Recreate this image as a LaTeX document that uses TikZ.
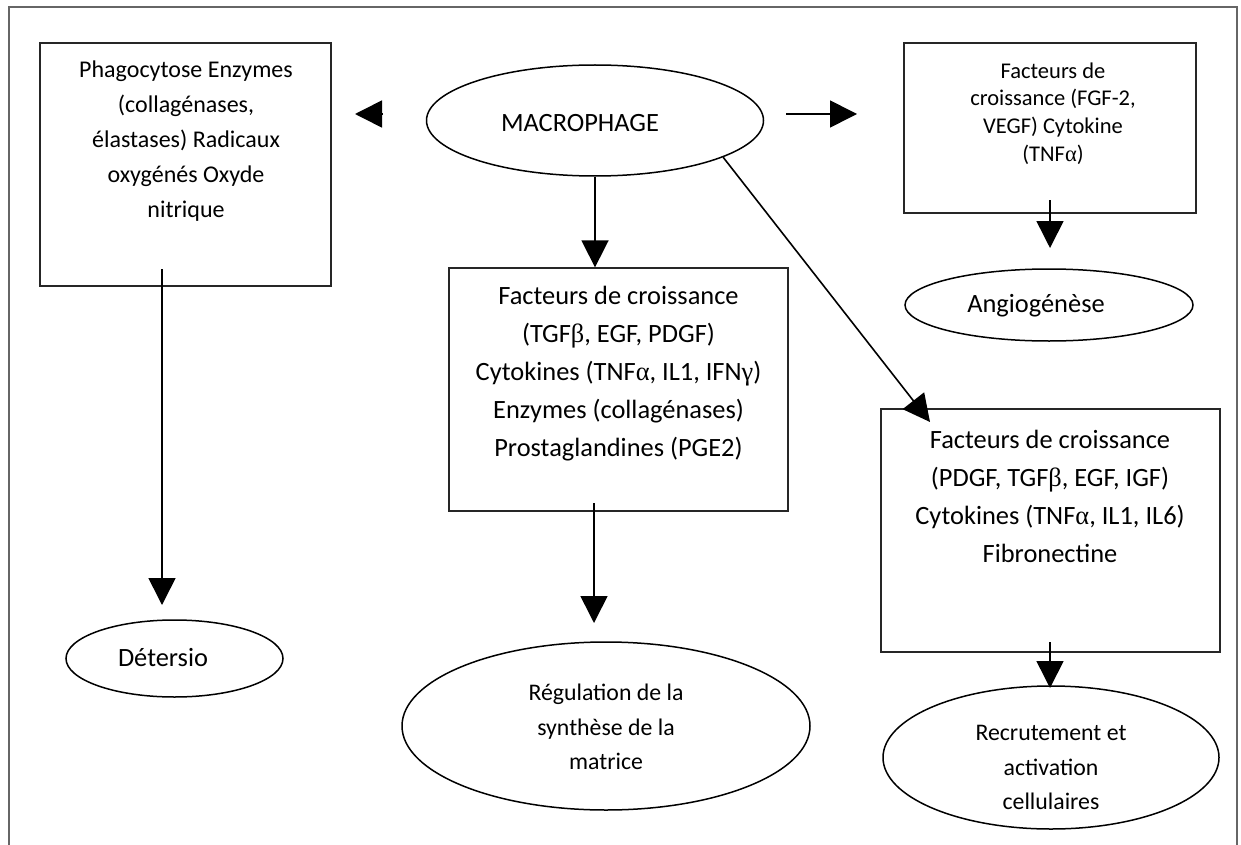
\documentclass[tikz,border=0pt]{standalone}
\usepackage{fontspec}
\setmainfont{Carlito}
\newfontfamily\grk{Liberation Serif}
\newcommand{\galpha}{{\grk α}}
\newcommand{\gbeta}{{\grk β}}
\newcommand{\ggamma}{{\grk γ}}
\usetikzlibrary{arrows.meta,shapes.geometric}
\begin{document}
\begin{tikzpicture}[x=1pt,y=-1pt,
  boxst/.style={draw=black!85, line width=1.3pt, inner sep=0pt},
  ell/.style={draw=black, ellipse, line width=1.5pt, inner sep=0pt},
  txt/.style={align=center, inner sep=0pt},
  arr/.style={draw=black, line width=1.6pt, -{Triangle[width=27pt,length=27pt]}},
  fA/.style={font=\fontsize{26.4}{38}\selectfont},
  fB/.style={font=\fontsize{23.8}{34.5}\selectfont},
  fL/.style={font=\fontsize{24}{35}\selectfont},
  fS/.style={font=\fontsize{22.5}{27.7}\selectfont}
]
\useasboundingbox (0,0) rectangle (1241,845);
% outer frame (open at bottom)
\draw[black!60, line width=1.5pt] (9,845) -- (9,7) -- (1237,7) -- (1237,845);

% boxes
\node[boxst, minimum width=291pt, minimum height=243pt] (lbox) at (185.5,164.5) {};
\node[boxst, minimum width=339pt, minimum height=243pt] (cbox) at (618.5,389.5) {};
\node[boxst, minimum width=292pt, minimum height=170pt] (trbox) at (1050,128) {};
\node[boxst, minimum width=339pt, minimum height=243pt] (brbox) at (1050.5,530.5) {};

% ellipses
\node[ell, minimum width=337pt, minimum height=111pt] (mac) at (595,120.5) {};
\node[ell, minimum width=217pt, minimum height=77pt] (det) at (174.5,658.5) {};
\node[ell, minimum width=288pt, minimum height=72pt] (ang) at (1049,305) {};
\node[ell, minimum width=408pt, minimum height=168pt] (reg) at (606,726) {};
\node[ell, minimum width=336pt, minimum height=143pt] (rec) at (1051,757.5) {};

% texts
\node[txt, fA] (mact) at (580,123) {MACROPHAGE};
\node[txt, fA] (dett) at (163,658) {Détersio};
\node[txt, fA] (angt) at (1036,306) {Angiogénèse};
\node[txt, fB] (regt) at (606,727) {Régulation de la\\synthèse de la\\matrice};
\node[txt, fB] (rect) at (1051,767.5) {Recrutement et\\activation\\cellulaires};
\node[txt, fL] (lboxt) at (186,141.5) {Phagocytose Enzymes\\(collagénases,\\élastases) Radicaux\\oxygénés Oxyde\\nitrique};
\node[txt, fS] (trboxt) at (1053,113.5) {Facteurs de\\croissance (FGF-2,\\VEGF) Cytokine\\(TNF\galpha)};
\node[txt, fA] (cboxt) at (618.5,373.5) {Facteurs de croissance\\(TGF\gbeta, EGF, PDGF)\\Cytokines (TNF\galpha, IL1, IFN\ggamma)\\Enzymes (collagénases)\\Prostaglandines (PGE2)};
\node[txt, fA] (brboxt) at (1050,496.5) {Facteurs de croissance\\(PDGF, TGF\gbeta, EGF, IGF)\\Cytokines (TNF\galpha, IL1, IL6)\\Fibronectine};

% free arrow ends
\coordinate (la1) at (382,114);
\coordinate (la2) at (355,114);
\coordinate (ra1) at (786,114);
\coordinate (ra2) at (857,114);
\coordinate (c1) at (594,503);
\coordinate (c2) at (594,623);
\coordinate (l1) at (162,269);
\coordinate (l2) at (162,605);
\coordinate (t1) at (1050,200);
\coordinate (t2) at (1050,248);
\coordinate (b1) at (1050,642);
\coordinate (b2) at (1050,688);
\coordinate (dg) at (930,422);

% connectors
\draw[arr] (la1) -- (la2);
\draw[arr] (ra1) -- (ra2);
\draw[arr] (mac.south) -- (mac.south |- cbox.north);
\draw[arr] (c1) -- (c2);
\draw[arr] (l1) -- (l2);
\draw[arr] (t1) -- (t2);
\draw[arr] (b1) -- (b2);
\draw[arr] (mac.-16) -- (dg);
\end{tikzpicture}
\end{document}
